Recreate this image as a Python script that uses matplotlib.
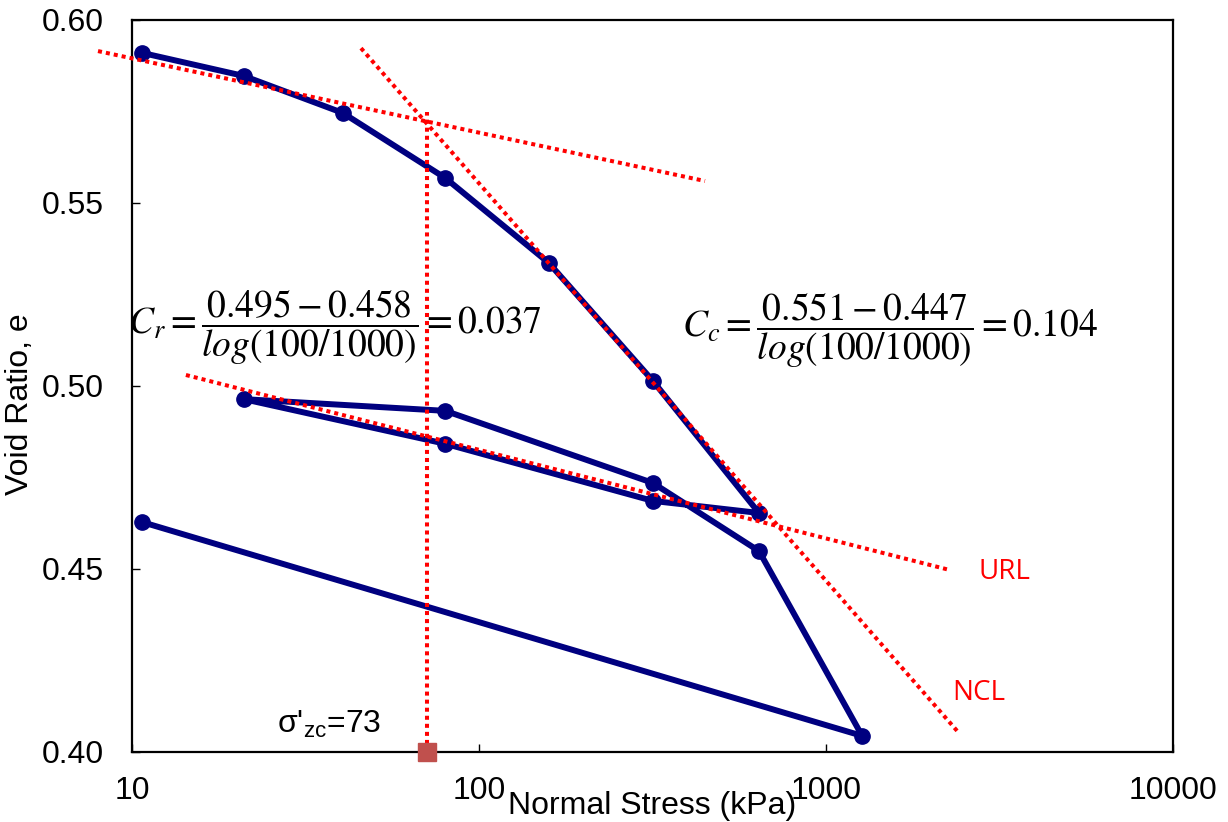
import matplotlib
matplotlib.use("Agg")
import matplotlib.pyplot as plt
from matplotlib.ticker import FixedLocator, FixedFormatter, NullLocator

# Oedometer test: load / unload / reload path
stress = [10.7, 21, 40.5, 80, 159, 317, 641, 317, 80, 21, 80, 317, 641, 1271, 10.7]
void_ratio = [0.591, 0.5847, 0.5746, 0.5568, 0.5336, 0.5014, 0.4653, 0.4686,
              0.4842, 0.4964, 0.4932, 0.4735, 0.4549, 0.4044, 0.4628]

# construction lines (end points)
rcl_x = [7.98, 448]
rcl_y = [0.5915, 0.556]
ncl_x = [45.7, 2390]
ncl_y = [0.5923, 0.4057]
url_x = [14.3, 2276]
url_y = [0.503, 0.4497]
pc_x = [70.6, 70.6]
pc_y = [0.40, 0.5749]

x_ticks = [10, 100, 1000, 10000]
x_tick_labels = ["10", "100", "1000", "10000"]
y_ticks = [0.40, 0.45, 0.50, 0.55, 0.60]
y_tick_labels = ["0.40", "0.45", "0.50", "0.55", "0.60"]

plt.rcParams["font.family"] = ["Liberation Sans", "DejaVu Sans"]

fig = plt.figure(figsize=(12.28, 8.22), dpi=100)
ax = fig.add_axes([0.1075, 0.0852, 0.8477, 0.8905])

red = "#ff0000"
dot = (0, (1.0, 1.0))
for xs, ys in [(rcl_x, rcl_y), (ncl_x, ncl_y), (url_x, url_y), (pc_x, pc_y)]:
    ax.plot(xs, ys, color=red, lw=2.9, linestyle=dot, dash_capstyle="butt",
            clip_on=False, zorder=4)

ax.plot(stress, void_ratio, color="#000080", lw=4.3, marker="o", markersize=11,
        solid_joinstyle="round", zorder=3)

ax.plot([pc_x[0]], [0.40], marker="s", markersize=13, color="#c0504d",
        clip_on=False, zorder=5)

ax.set_xscale("log")
ax.set_xlim(10, 10000)
ax.set_ylim(0.40, 0.60)
ax.xaxis.set_major_locator(FixedLocator(x_ticks))
ax.xaxis.set_major_formatter(FixedFormatter(x_tick_labels))
ax.xaxis.set_minor_locator(NullLocator())
ax.yaxis.set_major_locator(FixedLocator(y_ticks))
ax.yaxis.set_major_formatter(FixedFormatter(y_tick_labels))

ax.tick_params(axis="both", direction="in", length=6, width=1, labelsize=23,
               top=False, right=False)
ax.tick_params(axis="x", pad=17)
ax.tick_params(axis="y", pad=20)
for s in ax.spines.values():
    s.set_linewidth(1.6)

ax.set_xlabel("Normal Stress (kPa)", fontsize=23)
ax.xaxis.set_label_coords(0.5, -0.054)
ax.set_ylabel("Void Ratio, e", fontsize=23)
ax.yaxis.set_label_coords(-0.093, 0.475)

ax.text(0.195, 0.58, r"$C_r=\dfrac{0.495-0.458}{log(100/1000)}=0.037$",
        transform=ax.transAxes, ha="center", va="center", fontsize=27,
        math_fontfamily="stix")
ax.text(0.728, 0.576, r"$C_c=\dfrac{0.551-0.447}{log(100/1000)}=0.104$",
        transform=ax.transAxes, ha="center", va="center", fontsize=27,
        math_fontfamily="stix")

ax.text(0.8127, 0.246, "URL", transform=ax.transAxes, ha="left", va="center",
        fontsize=20, color=red, family="Open Sans")
ax.text(0.7877, 0.081, "NCL", transform=ax.transAxes, ha="left", va="center",
        fontsize=20, color=red, family="Open Sans")

ax.text(0.189, 0.027, r"σ'$_{\mathregular{zc}}$=73", transform=ax.transAxes,
        ha="center", va="baseline", fontsize=23)

fig.savefig("out.png", dpi=100)
